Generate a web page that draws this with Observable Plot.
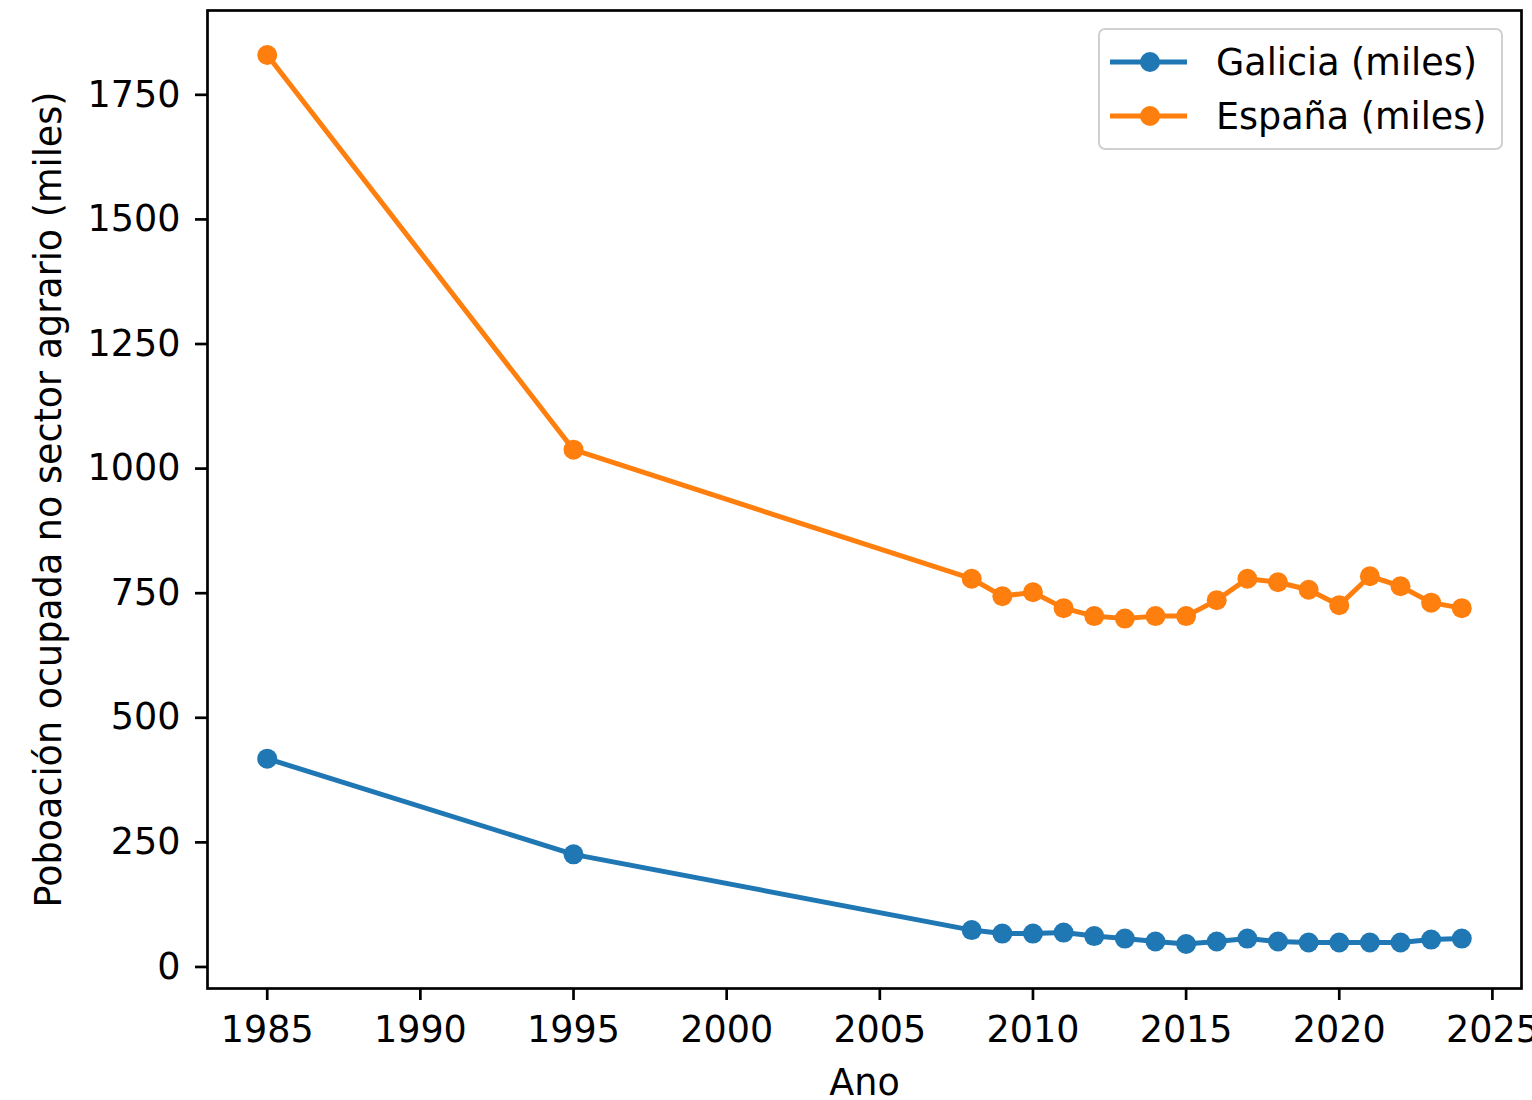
<!DOCTYPE html>
<html>
<head>
<meta charset="utf-8">
<script src="https://cdn.jsdelivr.net/npm/d3@7"></script>
<script src="https://cdn.jsdelivr.net/npm/@observablehq/plot@0.6"></script>
<style>
  body { margin: 0; background: white; }
  #wrap { position: relative; width: 1532px; height: 1100px; }
  .legend {
    position: absolute; left: 1098px; top: 28px; width: 405px; height: 122px;
    border: 2px solid #d0d0d0; border-radius: 7px; background: rgba(255,255,255,0.8);
    box-sizing: border-box; font-family: "DejaVu Sans", sans-serif; color: #000;
  }
  .legend svg { position: absolute; left: 0; top: 0; }
</style>
</head>
<body>
<div id="wrap"></div>
<script>
const years = [1985, 1995, 2008, 2009, 2010, 2011, 2012, 2013, 2014, 2015, 2016, 2017, 2018, 2019, 2020, 2021, 2022, 2023, 2024];
const galicia = [418, 226, 74, 67, 67, 69, 62, 57, 51, 46, 51, 57, 51, 49, 49, 49, 49, 55, 57];
const espana = [1830, 1038, 779, 744, 752, 720, 704, 699, 704, 704, 736, 779, 772, 757, 726, 784, 764, 731, 720];
const seriesNames = ["Galicia (miles)", "España (miles)"];
const seriesColors = ["#1f77b4", "#ff7f0e"];
const xTicks = [1985, 1990, 1995, 2000, 2005, 2010, 2015, 2020, 2025];
const yTicks = [0, 250, 500, 750, 1000, 1250, 1500, 1750];

const FS = 36.5;
const rows = [];
years.forEach((y, i) => {
  rows.push({year: y, value: galicia[i], serie: seriesNames[0]});
  rows.push({year: y, value: espana[i], serie: seriesNames[1]});
});

const chart = Plot.plot({
  width: 1532,
  height: 1100,
  marginLeft: 207,
  marginRight: 11,
  marginTop: 10,
  marginBottom: 112,
  style: {fontFamily: "'DejaVu Sans', sans-serif", fontSize: FS + "px", color: "#000", background: "white", overflow: "visible"},
  x: {domain: [1983.05, 2025.95]},
  y: {domain: [-43.2, 1919.2]},
  color: {domain: seriesNames, range: seriesColors},
  marks: [
    Plot.line(rows, {x: "year", y: "value", z: "serie", stroke: "serie", strokeWidth: 5}),
    Plot.dot(rows, {x: "year", y: "value", fill: "serie", r: 10, stroke: null}),
    Plot.frame({stroke: "#000", strokeWidth: 2.7}),
    Plot.axisX({ticks: xTicks, tickFormat: d => String(d), tickSize: 12, tickPadding: 16, strokeWidth: 2.7,
      label: "Ano", labelArrow: "none", labelAnchor: "center", labelOffset: 106, fontSize: FS}),
    Plot.axisY({ticks: yTicks, tickFormat: d => String(d), tickSize: 12, tickPadding: 15, strokeWidth: 2.7,
      label: "Poboación ocupada no sector agrario (miles)", labelArrow: "none", labelAnchor: "center", labelOffset: 172, fontSize: FS})
  ]
});
const wrap = document.getElementById("wrap");
wrap.appendChild(chart);

// legend
const leg = document.createElement("div");
leg.className = "legend";
const ns = "http://www.w3.org/2000/svg";
const lsvg = document.createElementNS(ns, "svg");
lsvg.setAttribute("width", 405); lsvg.setAttribute("height", 122);
seriesNames.forEach((name, i) => {
  const cy = 32 + i * 54;
  const line = document.createElementNS(ns, "line");
  line.setAttribute("x1", 10); line.setAttribute("x2", 87);
  line.setAttribute("y1", cy); line.setAttribute("y2", cy);
  line.setAttribute("stroke", seriesColors[i]); line.setAttribute("stroke-width", 5);
  lsvg.appendChild(line);
  const c = document.createElementNS(ns, "circle");
  c.setAttribute("cx", 50); c.setAttribute("cy", cy); c.setAttribute("r", 10);
  c.setAttribute("fill", seriesColors[i]);
  lsvg.appendChild(c);
  const t = document.createElementNS(ns, "text");
  t.setAttribute("x", 116); t.setAttribute("y", cy);
  t.setAttribute("dy", "0.35em");
  t.setAttribute("font-family", "DejaVu Sans");
  t.setAttribute("font-size", FS);
  t.textContent = name;
  lsvg.appendChild(t);
});
leg.appendChild(lsvg);
wrap.appendChild(leg);
</script>
</body>
</html>
